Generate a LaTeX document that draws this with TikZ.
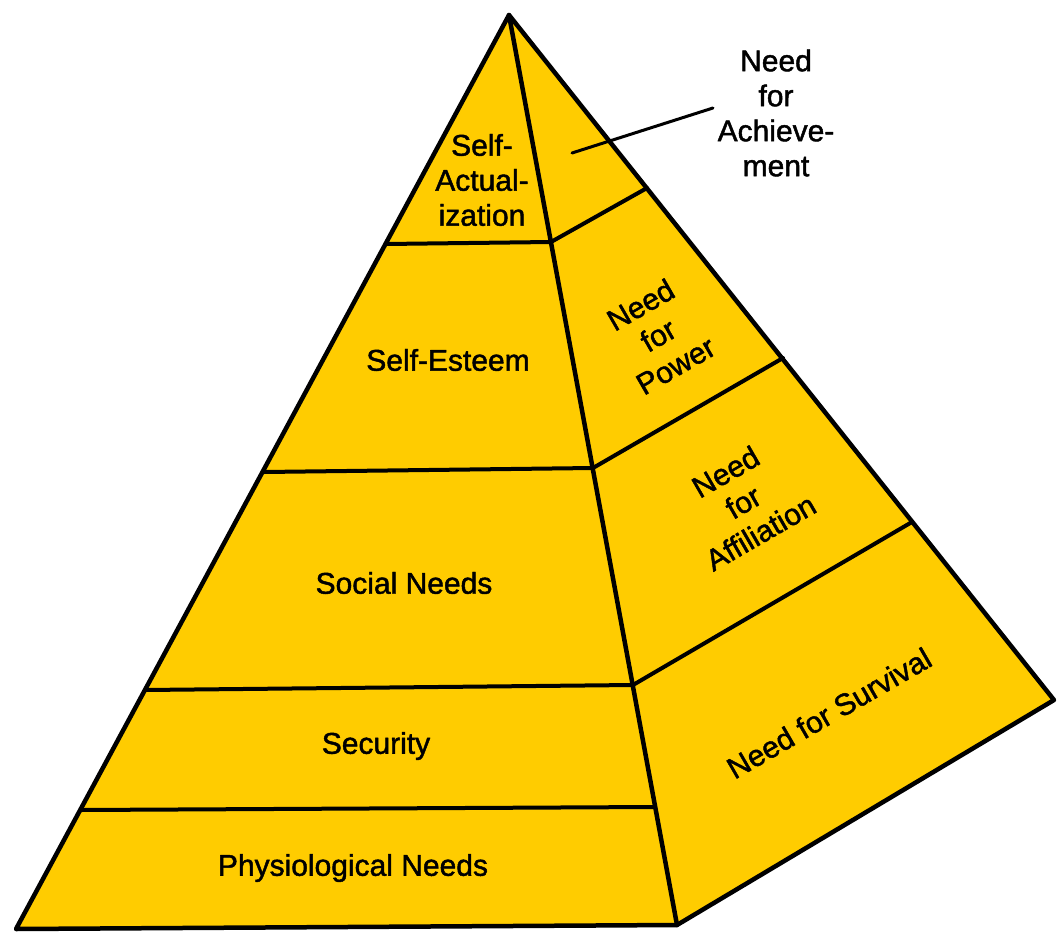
\documentclass[tikz,border=0pt]{standalone}
\usepackage{fontspec}
\setmainfont[FakeBold=1.5]{Liberation Sans}
\definecolor{pyr}{RGB}{255,204,0}
\begin{document}
\begin{tikzpicture}[x=1pt,y=-1pt,line join=round,line cap=round,
  edge/.style={line width=4.5pt},
  div/.style={line width=4pt},
  lbl/.style={font=\fontsize{30}{35}\selectfont,align=center,inner sep=0pt}]
\useasboundingbox (0,0) rectangle (1058,934);
% corners
\coordinate (A) at (509,15);
\coordinate (BL) at (16,929);
\coordinate (BF) at (677,925);
\coordinate (BR) at (1054,700);
% front face division points (left edge / front edge)
\coordinate (l1) at (386,244);  \coordinate (f1) at (551,242);
\coordinate (l2) at (264,472);  \coordinate (f2) at (593,468);
\coordinate (l3) at (145,690);  \coordinate (f3) at (633,685);
\coordinate (l4) at (81,810);   \coordinate (f4) at (655,807);
% right face division points
\coordinate (r1) at (647,188);
\coordinate (r2) at (783,358);
\coordinate (r3) at (912,522);
% leader line
\coordinate (lead1) at (572,153);
\coordinate (lead2) at (713,108);

\fill[pyr] (A) -- (BL) -- (BF) -- (BR) -- cycle;
\draw[edge] (A) -- (BL) -- (BF) -- (BR) -- cycle;
\draw[edge] (A) -- (BF);
\draw[div] (l1) -- (f1) -- (r1);
\draw[div] (l2) -- (f2) -- (r2);
\draw[div] (l3) -- (f3) -- (r3);
\draw[div] (l4) -- (f4);
\draw[line width=3pt] (lead1) -- (lead2);

% front labels
\node[lbl] (sa) at (482,180) {Self-\\Actual-\\ization};
\node[lbl] (se) at (448,360) {Self-Esteem};
\node[lbl] (sn) at (404,583) {Social Needs};
\node[lbl] (sec) at (376,746) {Security};
\node[lbl] (ph) at (353,868) {Physiological Needs};
% right labels
\node[lbl] (ach) at (776,113) {Need\\for\\Achieve-\\ment};
\node[lbl,rotate=30] (pow) at (658,335) {Need\\for\\Power};
\node[lbl,rotate=30] (aff) at (743,502) {Need\\for\\Affiliation};
\node[lbl,rotate=30] (sur) at (829,713) {Need for Survival};
\end{tikzpicture}
\end{document}
